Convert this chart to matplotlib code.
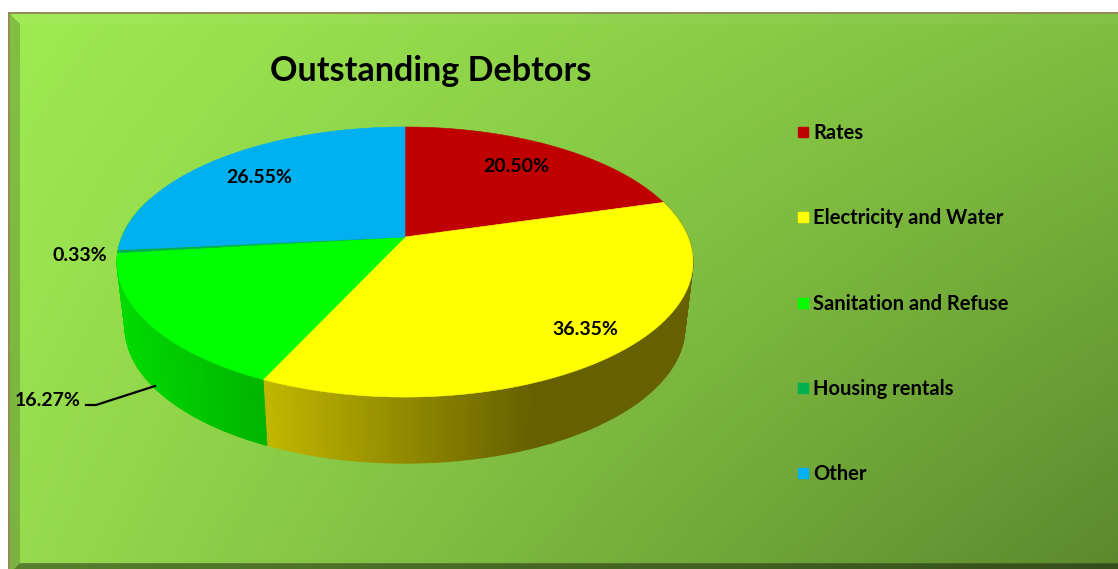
import numpy as np
import matplotlib
matplotlib.use("Agg")
import matplotlib.pyplot as plt
from matplotlib.colors import to_rgb
from matplotlib.lines import Line2D
from matplotlib.patches import Polygon, Rectangle
from matplotlib.collections import PolyCollection

title = "Outstanding Debtors"
categories = ["Rates", "Electricity and Water", "Sanitation and Refuse", "Housing rentals", "Other"]
values = [20.50, 36.35, 16.27, 0.33, 26.55]
colors = ["#C00000", "#FFFF00", "#00FF00", "#00B050", "#00B0F0"]

W, H = 1118, 569
FONT = "Lato"
fig = plt.figure(figsize=(W / 100, H / 100), dpi=100, facecolor="white")
ax = fig.add_axes([0, 0, 1, 1])
ax.set_xlim(0, W)
ax.set_ylim(H, 0)
ax.axis("off")

# background gradient (bilinear between the four corner colours)
yy, xx = np.mgrid[0:H, 0:W]
u = (xx / W)[..., None]
v = (yy / H)[..., None]
tl, tr = np.array(to_rgb("#9EEB52")), np.array(to_rgb("#80BF40"))
bl, br = np.array(to_rgb("#96DC4E")), np.array(to_rgb("#5B882D"))
img = (tl * (1 - u) + tr * u) * (1 - v) + (bl * (1 - u) + br * u) * v
ax.imshow(img, extent=(8, W, H, 12), aspect="auto", zorder=0, interpolation="bilinear")
ax.set_xlim(0, W)
ax.set_ylim(H, 0)

# frame and bevel
ax.add_patch(Rectangle((8, 12), W - 8, 2, fc="#958C55", ec="none", zorder=1))
ax.add_patch(Rectangle((8, 12), 2, H - 12, fc="#958C55", ec="none", zorder=1))
ax.add_patch(Polygon([(10, 14), (20, 24), (20, 563), (14, 569), (10, 569)], fc="black", alpha=0.18, ec="none", zorder=1))
ax.add_patch(Polygon([(10, 14), (W, 14), (W, 24), (20, 24)], fc="white", alpha=0.04, ec="none", zorder=1))
ax.add_patch(Polygon([(20, 563), (W, 563), (W, 569), (14, 569)], fc="black", alpha=0.42, ec="none", zorder=1))
ax.add_patch(Rectangle((20, 563), W - 20, 1.2, fc="white", alpha=0.08, ec="none", zorder=1))

# perspective pie geometry
CX, CY = 405.0, 237.0
BX, BY, K = 283.0, 130.4, 0.1852
BOT_CY, BOT_SX, BOT_SY = 302.0, 0.972, 1.007
HIDDEN_EXTENSION = np.radians(25)  # the side wall of the last visible slice wraps the silhouette


def top_pt(t):
    w = 1 + K * np.cos(t)
    return CX + BX * np.sin(t) / w, CY - BY * np.cos(t) / w


def bot_pt(t):
    w = 1 + K * np.cos(t)
    return CX + BOT_SX * BX * np.sin(t) / w, BOT_CY - BOT_SY * BY * np.cos(t) / w


edges = np.radians(np.concatenate([[0], np.cumsum(values)]) / sum(values) * 360)


def wall_color(name, x):
    if name == "Electricity and Water":
        f = np.clip((x - 265) / (530 - 265), 0, 1)
        return tuple(np.array(to_rgb("#C2B800")) * (1 - f) + np.array(to_rgb("#666000")) * f)
    f = np.clip((x - 120) / (267 - 120), 0, 1)
    return tuple(np.array(to_rgb("#00DC00")) * (1 - f) + np.array(to_rgb("#00B400")) * f)


for name, start, stop in [("Electricity and Water", edges[1], edges[2]),
                          ("Sanitation and Refuse", edges[2], edges[3] + HIDDEN_EXTENSION)]:
    ts = np.linspace(start, stop, 240)
    quads, cols = [], []
    for a, b in zip(ts[:-1], ts[1:]):
        ax0, ay0 = top_pt(a)
        ax1, ay1 = top_pt(b)
        bx0, by0 = bot_pt(a)
        bx1, by1 = bot_pt(b)
        quads.append([(ax0, ay0), (ax1, ay1), (bx1, by1), (bx0, by0)])
        cols.append(wall_color(name, (bx0 + bx1) / 2))
    ax.add_collection(PolyCollection(quads, facecolors=cols, edgecolors=cols, linewidths=0.6, zorder=2))

for i, name in enumerate(categories):
    ts = np.linspace(edges[i], edges[i + 1], 200)
    x, y = top_pt(ts)
    ax.add_patch(Polygon(np.column_stack([np.r_[CX, x], np.r_[CY, y]]), closed=True,
                         fc=colors[i], ec=colors[i], lw=0.4, zorder=3))

# data labels
label_pos = [(516.5, 166), (585, 329), (48, 400), (80, 255), (259, 177)]
for v, (lx, ly) in zip(values, label_pos):
    ax.text(lx, ly, f"{v:.2f}%", ha="center", va="center", fontsize=14, fontweight="bold",
            family=FONT, color="black", zorder=5)
ax.plot([86, 96, 155], [405, 405, 386], color="black", lw=1.6, zorder=5)

ax.text(431, 71, title, ha="center", va="center", fontsize=24.6, fontweight="bold",
        family=FONT, color="black", zorder=5)

handles = [Line2D([], [], marker="s", ls="none", mfc=c, mec=c, ms=7.8, label=n)
           for c, n in zip(colors, categories)]
ax.legend(handles=handles, loc="upper left", bbox_to_anchor=(798 / W, 1 - 123 / H),
          bbox_transform=fig.transFigure, frameon=False, borderpad=0, borderaxespad=0,
          labelspacing=3.245, handlelength=0.5, handletextpad=0.25,
          prop={"family": FONT, "weight": "bold", "size": 14.5})

fig.savefig("out.png", dpi=100, facecolor="white")
